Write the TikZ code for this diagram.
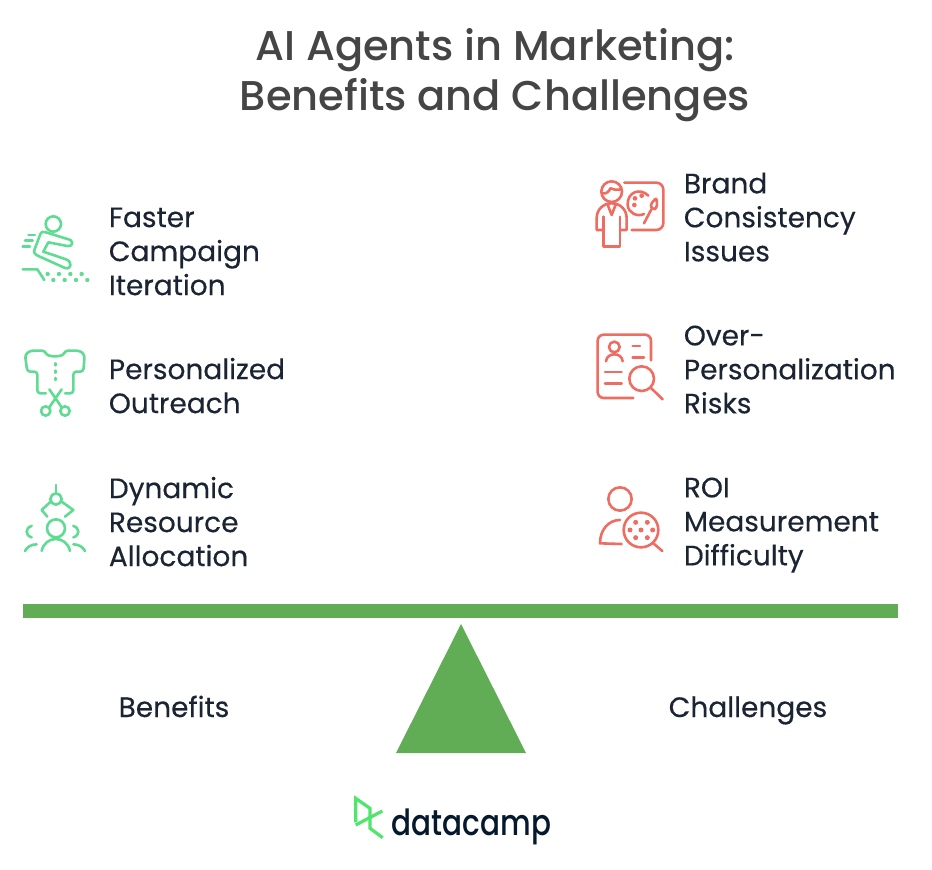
\documentclass[tikz,border=0pt]{standalone}
\usepackage{fontspec}
\setmainfont[FakeBold=0.3]{Poppins}
\newfontfamily\titlefont{Poppins Medium}
\usetikzlibrary{calc}
\definecolor{ink}{HTML}{1B2433}
\definecolor{titleink}{HTML}{454545}
\definecolor{gicon}{HTML}{5FDC92}
\definecolor{ricon}{HTML}{EE6C60}
\definecolor{bargreen}{HTML}{60AD56}
\definecolor{logogreen}{HTML}{4FE66B}
\definecolor{logoink}{HTML}{05192D}
\tikzset{
  x=1pt,y=-1pt,
  label text/.style={anchor=north west,align=left,inner sep=0pt,text=ink,font=\fontsize{28}{34}\selectfont},
  side text/.style={anchor=base,inner sep=0pt,text=ink,font=\fontsize{28}{34}\selectfont},
  headline/.style={anchor=center,align=center,inner sep=0pt,text=titleink,font=\titlefont\fontsize{41.6}{50}\selectfont},
  gline/.style={draw=gicon,line width=2.6pt,line cap=round,line join=round},
  rline/.style={draw=ricon,line width=2.6pt,line cap=round,line join=round},
  zoomed/.style={x=0.3333pt,y=-0.3333pt},
}
\begin{document}
\begin{tikzpicture}
\useasboundingbox (0,0) rectangle (932,870);
\fill[white] (0,0) rectangle (932,870);
\node[headline] (title) at (495,75) {AI Agents in Marketing:\\Benefits and Challenges};

\node[label text] (faster) at (108.7,207.4) {Faster\\Campaign\\Iteration};
\node[label text] (outreach) at (108.7,357.6) {Personalized\\Outreach};
\node[label text] (dynamic) at (108.7,476.6) {Dynamic\\Resource\\Allocation};
\node[label text] (brand) at (683.7,172.4) {Brand\\Consistency\\Issues};
\node[label text] (over) at (683.7,325.4) {Over-\\Personalization\\Risks};
\node[label text] (roi) at (683.7,477.4) {ROI\\Measurement\\Difficulty};
\node[side text] (benefits) at (174,717) {Benefits};
\node[side text] (challenges) at (748,717) {Challenges};

\fill[bargreen] (23,604) rectangle (898,618);
\fill[bargreen] (461,624) -- (396,753) -- (526,753) -- cycle;

% icon: runner
\begin{scope}[shift={(10,200)},zoomed]
\draw[gline] (130,72) circle (23);
\draw[gline] (172,117) .. controls (192,120) and (192,140) .. (172,138) -- (115,127) -- (100,155) -- (168,178) .. controls (188,185) and (185,210) .. (165,204) -- (85,168) .. controls (72,162) and (70,155) .. (75,145) -- (90,105) .. controls (93,95) and (100,93) .. (108,97) -- cycle;
\draw[gline] (55,105) -- (75,105) (45,122) -- (68,122) (38,140) -- (60,140);
\draw[gline] (38,208) -- (82,208) -- (103,240);
\foreach \px/\py in {113/222,147/222,181/222,215/222,130/240,164/240,198/240,232/240}
  \fill[gicon] (\px,\py) circle (6.5);
\end{scope}

% icon: shirt and scissors
\begin{scope}[shift={(10,340)},zoomed]
\draw[gline,rounded corners=3pt] (108,160) -- (82,160) -- (82,95) -- (52,95) -- (45,45) -- (60,32) -- (105,32) .. controls (113,52) and (157,52) .. (165,32) -- (210,32) -- (224,45) -- (220,95) -- (190,95) -- (190,160) -- (165,160);
\draw[gline] (136,70) -- (136,76) (136,92) -- (136,98) (136,114) -- (136,120);
\draw[gline] (118,148) -- (155,202) (155,148) -- (118,202);
\draw[gline] (107,213) circle (14) (165,213) circle (14);
\end{scope}

% icon: claw and people
\begin{scope}[shift={(10,475)},zoomed]
\draw[gline] (138,30) -- (138,55);
\draw[gline] (138,72) circle (17);
\draw[gline] (122,80) -- (95,105) -- (112,125) (155,80) -- (190,105) -- (165,125);
\draw[gline] (138,160) circle (27);
\draw[gline] (95,228) .. controls (105,180) and (170,180) .. (180,228);
\draw[gline] (65,153) .. controls (45,158) and (45,182) .. (65,187);
\draw[gline] (190,153) .. controls (210,158) and (210,182) .. (190,187);
\draw[gline] (45,228) .. controls (52,215) and (65,208) .. (80,208);
\draw[gline] (190,208) .. controls (205,208) and (218,215) .. (225,228);
\end{scope}

% icon: painter
\begin{scope}[shift={(585,170)},zoomed]
\draw[rline] (80,65) circle (31);
\draw[rline] (52,70) .. controls (65,72) and (72,65) .. (76,55) .. controls (85,60) and (95,60) .. (108,58);
\draw[rline] (50,180) -- (35,180) -- (35,145) .. controls (35,118) and (55,100) .. (80,100) .. controls (105,100) and (125,118) .. (125,145) -- (125,180) -- (105,180);
\draw[rline] (55,140) -- (55,230) -- (105,230) -- (105,140);
\draw[rline] (68,104) -- (80,135) -- (92,104);
\draw[rline,rounded corners=7pt] (118,38) -- (235,38) -- (235,180) -- (140,180);
\draw[rline] (190,77) .. controls (165,52) and (126,66) .. (128,105) .. controls (130,128) and (155,142) .. (177,132);
\draw[rline] (177,160) -- (199,118);
\draw[rline,rounded corners=3pt] (195,105) -- (215,82) -- (216,115) -- (203,119) -- cycle;
\foreach \px/\py in {150/85,170/77,148/105}
  \fill[ricon] (\px,\py) circle (7);
\end{scope}

% icon: document and magnifier
\begin{scope}[shift={(585,322)},zoomed]
\draw[rline,rounded corners=6pt] (145,228) -- (38,228) -- (38,38) -- (198,38) -- (198,115);
\draw[rline] (88,75) circle (16);
\draw[rline] (63,118) .. controls (65,90) and (111,90) .. (113,118);
\draw[rline] (143,72) -- (165,72) (143,107) -- (177,107) (60,150) -- (110,150) (60,185) -- (110,185);
\draw[rline] (170,170) circle (37);
\draw[rline] (197,197) -- (233,232);
\end{scope}

% icon: person and magnified dots
\begin{scope}[shift={(585,475)},zoomed]
\draw[rline] (105,72) circle (35);
\draw[rline] (105,135) .. controls (70,135) and (45,165) .. (45,205) -- (110,207);
\draw[rline] (168,165) circle (52);
\draw[rline] (205,205) -- (232,228);
\foreach \px/\py in {152/142,187/142,135/165,168/165,203/165,152/188,187/188}
  \fill[ricon] (\px,\py) circle (7.5);
\end{scope}

% logo
\begin{scope}[shift={(340,785)},zoomed]
\draw[draw=logogreen,line width=3.2pt,line join=miter] (47,112) -- (47,40) -- (90,70) -- (90,130) -- (128,158);
\draw[draw=logogreen,line width=3.2pt] (127,78) -- (47,120);
\end{scope}
\node[anchor=base,inner sep=0pt,xscale=0.82,text=logoink,font=\titlefont\fontsize{36}{40}\selectfont] (logo) at (471.5,835) {datacamp};
\end{tikzpicture}
\end{document}
